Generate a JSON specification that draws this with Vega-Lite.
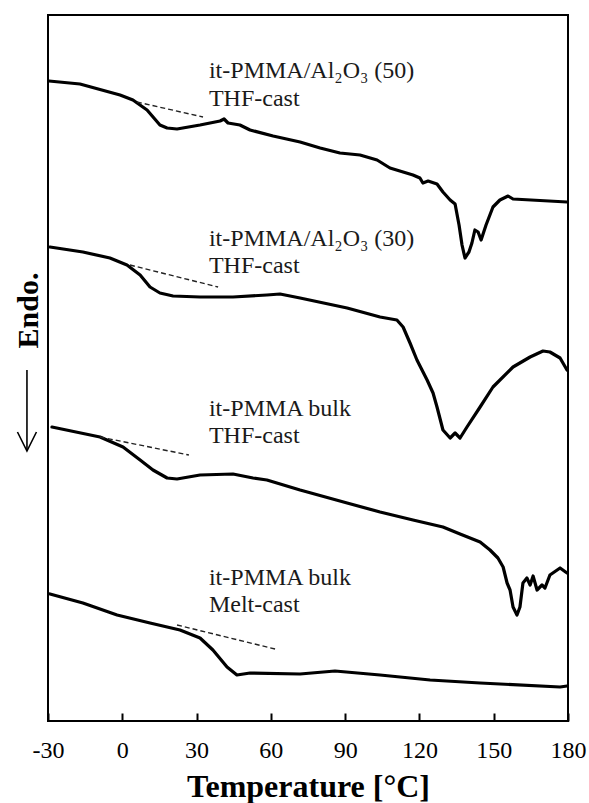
{
  "$schema": "https://vega.github.io/schema/vega-lite/v6.json",
  "width": 520,
  "height": 706,
  "autosize": {"type": "none"},
  "padding": {"left": 48, "top": 15, "right": 21, "bottom": 82},
  "background": "white",
  "config": {
    "view": {"stroke": "#000", "strokeWidth": 2},
    "font": "Liberation Serif"
  },
  "datasets": {
    "curves": [
      {"s": "a", "t": -29.6, "v": 640}, {"s": "a", "t": -17.1, "v": 637}, {"s": "a", "t": -0.9, "v": 626}, {"s": "a", "t": 4.3, "v": 621},
      {"s": "a", "t": 10.0, "v": 611}, {"s": "a", "t": 15.2, "v": 596}, {"s": "a", "t": 18.1, "v": 593}, {"s": "a", "t": 22.1, "v": 592},
      {"s": "a", "t": 31.4, "v": 596}, {"s": "a", "t": 39.5, "v": 600}, {"s": "a", "t": 41.1, "v": 602}, {"s": "a", "t": 42.7, "v": 598},
      {"s": "a", "t": 47.5, "v": 596}, {"s": "a", "t": 51.6, "v": 591}, {"s": "a", "t": 60.9, "v": 585}, {"s": "a", "t": 71.8, "v": 579},
      {"s": "a", "t": 79.9, "v": 573}, {"s": "a", "t": 87.9, "v": 568}, {"s": "a", "t": 96.0, "v": 566}, {"s": "a", "t": 102.9, "v": 561},
      {"s": "a", "t": 108.1, "v": 553}, {"s": "a", "t": 117.4, "v": 546}, {"s": "a", "t": 120.2, "v": 543}, {"s": "a", "t": 121.4, "v": 538},
      {"s": "a", "t": 123.5, "v": 540}, {"s": "a", "t": 127.1, "v": 537}, {"s": "a", "t": 129.5, "v": 529}, {"s": "a", "t": 132.4, "v": 521},
      {"s": "a", "t": 134.4, "v": 517}, {"s": "a", "t": 136.0, "v": 496}, {"s": "a", "t": 137.2, "v": 476}, {"s": "a", "t": 138.4, "v": 463},
      {"s": "a", "t": 140.0, "v": 469}, {"s": "a", "t": 141.2, "v": 478}, {"s": "a", "t": 142.4, "v": 491}, {"s": "a", "t": 143.7, "v": 489},
      {"s": "a", "t": 144.9, "v": 481}, {"s": "a", "t": 146.9, "v": 496}, {"s": "a", "t": 149.7, "v": 514}, {"s": "a", "t": 152.5, "v": 521},
      {"s": "a", "t": 155.8, "v": 525}, {"s": "a", "t": 157.8, "v": 522}, {"s": "a", "t": 179.6, "v": 519},

      {"s": "b", "t": -29.2, "v": 474}, {"s": "b", "t": -15.9, "v": 469}, {"s": "b", "t": -5.0, "v": 463}, {"s": "b", "t": 1.9, "v": 456},
      {"s": "b", "t": 7.2, "v": 446}, {"s": "b", "t": 11.2, "v": 434}, {"s": "b", "t": 15.2, "v": 428}, {"s": "b", "t": 20.5, "v": 425},
      {"s": "b", "t": 31.4, "v": 424}, {"s": "b", "t": 44.7, "v": 424}, {"s": "b", "t": 58.4, "v": 426}, {"s": "b", "t": 63.7, "v": 427},
      {"s": "b", "t": 71.8, "v": 423}, {"s": "b", "t": 90.8, "v": 413}, {"s": "b", "t": 104.1, "v": 404}, {"s": "b", "t": 110.9, "v": 401},
      {"s": "b", "t": 113.4, "v": 394}, {"s": "b", "t": 116.2, "v": 378}, {"s": "b", "t": 119.0, "v": 361}, {"s": "b", "t": 123.1, "v": 341},
      {"s": "b", "t": 125.5, "v": 328}, {"s": "b", "t": 127.1, "v": 314}, {"s": "b", "t": 129.5, "v": 291}, {"s": "b", "t": 132.4, "v": 283},
      {"s": "b", "t": 134.4, "v": 288}, {"s": "b", "t": 136.4, "v": 283}, {"s": "b", "t": 139.2, "v": 294}, {"s": "b", "t": 144.5, "v": 314},
      {"s": "b", "t": 149.7, "v": 334}, {"s": "b", "t": 157.8, "v": 354}, {"s": "b", "t": 164.7, "v": 364}, {"s": "b", "t": 169.9, "v": 370},
      {"s": "b", "t": 172.7, "v": 369}, {"s": "b", "t": 176.8, "v": 363}, {"s": "b", "t": 179.6, "v": 351},

      {"s": "c", "t": -28.4, "v": 294}, {"s": "c", "t": -9.0, "v": 284}, {"s": "c", "t": 0.3, "v": 274}, {"s": "c", "t": 7.2, "v": 261},
      {"s": "c", "t": 12.4, "v": 251}, {"s": "c", "t": 18.1, "v": 243}, {"s": "c", "t": 22.1, "v": 242}, {"s": "c", "t": 31.4, "v": 246},
      {"s": "c", "t": 44.7, "v": 247}, {"s": "c", "t": 52.8, "v": 243}, {"s": "c", "t": 58.4, "v": 241}, {"s": "c", "t": 71.8, "v": 231},
      {"s": "c", "t": 90.8, "v": 218}, {"s": "c", "t": 104.1, "v": 209}, {"s": "c", "t": 117.4, "v": 201}, {"s": "c", "t": 129.5, "v": 194},
      {"s": "c", "t": 136.4, "v": 187}, {"s": "c", "t": 144.5, "v": 179}, {"s": "c", "t": 148.5, "v": 171}, {"s": "c", "t": 151.7, "v": 163},
      {"s": "c", "t": 153.8, "v": 154}, {"s": "c", "t": 155.4, "v": 138}, {"s": "c", "t": 156.6, "v": 131}, {"s": "c", "t": 157.8, "v": 114},
      {"s": "c", "t": 159.4, "v": 106}, {"s": "c", "t": 160.6, "v": 114}, {"s": "c", "t": 161.8, "v": 138}, {"s": "c", "t": 163.4, "v": 143},
      {"s": "c", "t": 164.7, "v": 136}, {"s": "c", "t": 165.9, "v": 145}, {"s": "c", "t": 167.5, "v": 131}, {"s": "c", "t": 169.5, "v": 136},
      {"s": "c", "t": 170.7, "v": 133}, {"s": "c", "t": 172.7, "v": 146}, {"s": "c", "t": 176.8, "v": 153}, {"s": "c", "t": 179.6, "v": 148},

      {"s": "d", "t": -29.2, "v": 127}, {"s": "d", "t": -15.9, "v": 118}, {"s": "d", "t": -2.1, "v": 106}, {"s": "d", "t": 11.2, "v": 98},
      {"s": "d", "t": 23.3, "v": 91}, {"s": "d", "t": 31.4, "v": 83}, {"s": "d", "t": 36.6, "v": 71}, {"s": "d", "t": 42.3, "v": 54},
      {"s": "d", "t": 46.3, "v": 46}, {"s": "d", "t": 51.6, "v": 48}, {"s": "d", "t": 71.8, "v": 47}, {"s": "d", "t": 85.9, "v": 50},
      {"s": "d", "t": 104.1, "v": 46}, {"s": "d", "t": 124.3, "v": 41}, {"s": "d", "t": 144.5, "v": 38}, {"s": "d", "t": 176.8, "v": 34},
      {"s": "d", "t": 179.6, "v": 35}
    ],
    "tangents": [
      {"s": "a", "t": 5.9, "v": 619}, {"s": "a", "t": 32.6, "v": 604},
      {"s": "b", "t": 3.1, "v": 456}, {"s": "b", "t": 38.7, "v": 434},
      {"s": "c", "t": -9.0, "v": 284}, {"s": "c", "t": 26.9, "v": 266},
      {"s": "d", "t": 22.1, "v": 96}, {"s": "d", "t": 61.7, "v": 72}
    ],
    "labels": [
      {"t": 35, "v": 643, "text": "it-PMMA/Al₂O₃ (50)"},
      {"t": 35, "v": 615, "text": "THF-cast"},
      {"t": 35, "v": 475, "text": "it-PMMA/Al₂O₃ (30)"},
      {"t": 35, "v": 448, "text": "THF-cast"},
      {"t": 35, "v": 305, "text": "it-PMMA bulk"},
      {"t": 35, "v": 278, "text": "THF-cast"},
      {"t": 35, "v": 136, "text": "it-PMMA bulk"},
      {"t": 35, "v": 109, "text": "Melt-cast"}
    ],
    "arrow": [
      {"t": -38.5, "v": 351, "v2": 270}
    ]
  },
  "layer": [
    {
      "data": {"name": "curves"},
      "mark": {"type": "line", "color": "#000", "strokeWidth": 3.2, "strokeJoin": "round", "strokeCap": "round"},
      "encoding": {
        "x": {
          "field": "t", "type": "quantitative",
          "scale": {"domain": [-30, 180], "nice": false, "zero": false},
          "axis": {
            "values": [-30, 0, 30, 60, 90, 120, 150, 180],
            "labelExpr": "'' + datum.value",
            "domain": false, "grid": false,
            "tickSize": -8, "tickWidth": 2, "tickColor": "#000",
            "labelFont": "Liberation Serif", "labelFontSize": 24, "labelColor": "#000",
            "labelPadding": 25, "labelFlush": false,
            "title": "Temperature [°C]",
            "titleFont": "Liberation Serif", "titleFontSize": 32, "titleFontWeight": "bold", "titleColor": "#000",
            "titleBaseline": "alphabetic", "titleY": 75
          }
        },
        "y": {
          "field": "v", "type": "quantitative",
          "scale": {"domain": [0, 706], "nice": false, "zero": false},
          "axis": {
            "domain": false, "ticks": false, "labels": false, "grid": false,
            "title": "Endo.",
            "titleFont": "Liberation Serif", "titleFontSize": 30, "titleFontWeight": "bold", "titleColor": "#000",
            "titleAngle": -90, "titleX": -11, "titleY": 295, "titleBaseline": "alphabetic", "titleAlign": "center"
          }
        },
        "detail": {"field": "s"}
      }
    },
    {
      "data": {"name": "tangents"},
      "mark": {"type": "line", "color": "#222", "strokeWidth": 1.4, "strokeDash": [5, 3]},
      "encoding": {
        "x": {"field": "t", "type": "quantitative"},
        "y": {"field": "v", "type": "quantitative"},
        "detail": {"field": "s"}
      }
    },
    {
      "data": {"name": "labels"},
      "mark": {"type": "text", "align": "left", "baseline": "alphabetic", "font": "Liberation Serif", "fontSize": 24, "color": "#1a1a1a"},
      "encoding": {
        "x": {"field": "t", "type": "quantitative"},
        "y": {"field": "v", "type": "quantitative"},
        "text": {"field": "text"}
      }
    },
    {
      "data": {"name": "arrow"},
      "mark": {"type": "rule", "color": "#000", "strokeWidth": 1.6},
      "encoding": {
        "x": {"field": "t", "type": "quantitative"},
        "y": {"field": "v", "type": "quantitative"},
        "y2": {"field": "v2"}
      }
    },
    {
      "data": {"name": "arrow"},
      "mark": {"type": "point", "shape": "M-0.5,-1L0,0L0.5,-1", "size": 1444, "filled": false, "stroke": "#000", "strokeWidth": 1.6, "opacity": 1},
      "encoding": {
        "x": {"field": "t", "type": "quantitative"},
        "y": {"field": "v2", "type": "quantitative"}
      }
    }
  ]
}
